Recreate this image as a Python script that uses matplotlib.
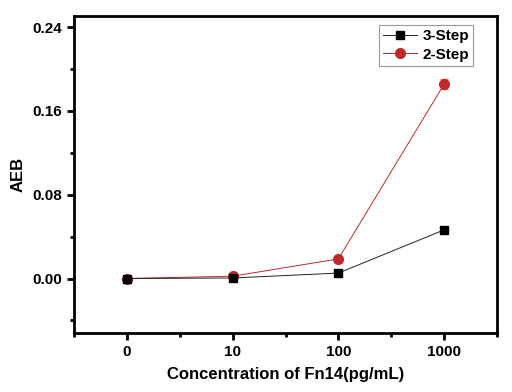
import matplotlib
matplotlib.use("Agg")
from matplotlib import pyplot as plt
from matplotlib.ticker import MultipleLocator, FormatStrFormatter
import numpy as np

# data
conc_labels = ["0", "10", "100", "1000"]
step3 = [0.0, 0.0005, 0.0052, 0.0464]
step2 = [0.0, 0.0022, 0.0187, 0.1855]
step2_err = [0.0005, 0.0008, 0.001, 0.0045]

plt.rcParams['font.family'] = ['Liberation Sans', 'DejaVu Sans']
plt.rcParams['font.weight'] = 'bold'

fig = plt.figure(figsize=(5.12, 3.92), dpi=100)
ax = fig.add_axes([74/512, 1-333/392, (497-74)/512, (333-16)/392])

x = np.arange(len(conc_labels))
red = '#c0282a'
ax.errorbar(x, step2, yerr=step2_err, fmt='none', ecolor='#e08080',
            capsize=3, elinewidth=0.8, zorder=1)
ax.plot(x, step3, color='#222222', lw=0.7, marker='s', ms=6,
        mfc='black', mec='black', label='3-Step', zorder=3)
ax.plot(x, step2, color=red, lw=0.7, marker='o', ms=7,
        mfc=red, mec=red, label='2-Step', zorder=2)

ax.set_xlim(-0.5, 3.5)
ax.set_ylim(-0.052, 0.2505)
ax.set_xticks(x)
ax.set_xticklabels(conc_labels)
ax.xaxis.set_minor_locator(MultipleLocator(0.5))
ax.set_yticks([0.0, 0.08, 0.16, 0.24])
ax.yaxis.set_minor_locator(MultipleLocator(0.04))
ax.yaxis.set_major_formatter(FormatStrFormatter('%.2f'))

for sp in ax.spines.values():
    sp.set_linewidth(2)
ax.tick_params(which='major', length=5, width=2, labelsize=11, direction='out')
ax.tick_params(which='minor', length=3, width=2, direction='out')
ax.tick_params(axis='x', which='both', top=False)
ax.tick_params(axis='y', which='both', right=False)

ax.set_xlabel('Concentration of Fn14(pg/mL)', fontsize=12, fontweight='bold', labelpad=6)
ax.set_ylabel('AEB', fontsize=12, fontweight='bold', labelpad=5)

leg = ax.legend(loc='upper right', bbox_to_anchor=(0.955, 0.985), fontsize=11,
                frameon=True, fancybox=False, edgecolor='gray', borderpad=0.25,
                handlelength=2.2, handletextpad=0.4, labelspacing=0.3, borderaxespad=0.3)
leg.get_frame().set_linewidth(0.8)

fig.savefig('out.png', dpi=100)
